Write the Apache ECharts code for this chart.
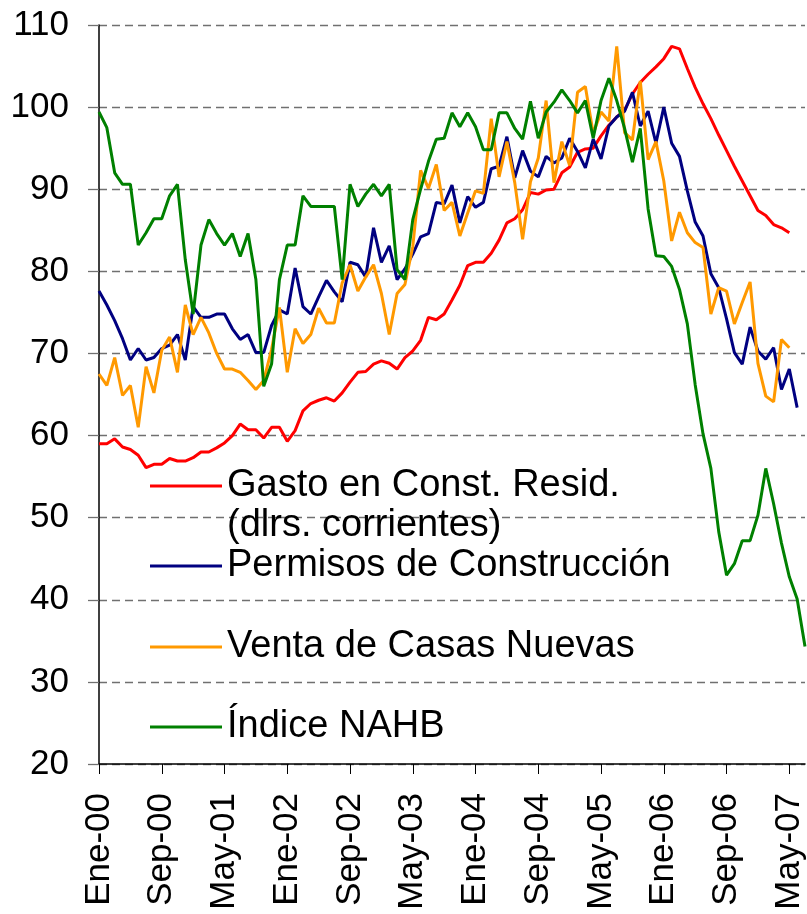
<!DOCTYPE html>
<html>
<head>
<meta charset="utf-8">
<title>Indicadores de vivienda</title>
<script src="https://cdn.jsdelivr.net/npm/echarts@6/dist/echarts.min.js"></script>
<style>
    html, body { margin: 0; padding: 0; background: #fff; }
    #chart { width: 807px; height: 914px; }
</style>
</head>
<body>
<div id="chart"></div>
<script>
    // meses del eje X: Ene-00 .. Jul-07
    var mesNombres = ['Ene', 'Feb', 'Mar', 'Abr', 'May', 'Jun', 'Jul', 'Ago', 'Sep', 'Oct', 'Nov', 'Dic'];
    var anios = ['00', '01', '02', '03', '04', '05', '06', '07'];
    var meses = [];
    for (var a = 0; a < anios.length; a++) {
        for (var m = 0; m < 12; m++) {
            meses.push(mesNombres[m] + '-' + anios[a]);
        }
    }
    meses = meses.slice(0, 91);

    // Gasto en Const. Resid. (dlrs. corrientes)
    var gasto = [
        59.0, 59.0, 59.6, 58.6, 58.3, 57.6, 56.1, 56.5, 56.5, 57.2, 56.9, 56.9,
        57.3, 58.0, 58.0, 58.5, 59.1, 60.0, 61.4, 60.7, 60.7, 59.7, 61.0, 61.0,
        59.3, 60.6, 63.0, 63.9, 64.3, 64.6, 64.2, 65.2, 66.5, 67.7, 67.8, 68.7,
        69.1, 68.8, 68.1, 69.5, 70.3, 71.6, 74.4, 74.1, 74.8, 76.5, 78.3, 80.7,
        81.1, 81.1, 82.2, 83.8, 85.9, 86.4, 87.5, 89.6, 89.4, 89.9, 90.0, 92.0,
        92.7, 94.5, 94.9, 95.0, 96.5, 97.8, 98.8, 99.6, 101.6, 103.0, 104.0, 104.9,
        105.9, 107.4, 107.1, 104.7, 102.4, 100.4, 98.6, 96.6, 94.7, 92.8, 91.0, 89.2,
        87.4, 86.8, 85.7, 85.3, 84.7
    ];
    // Permisos de Construcción
    var permisos = [
        77.6, 75.9, 74.0, 71.8, 69.2, 70.6, 69.2, 69.5, 70.6, 71.0, 72.3, 69.2,
        75.7, 74.4, 74.4, 74.8, 74.8, 73.0, 71.7, 72.3, 70.1, 70.1, 73.4, 75.3,
        74.8, 80.4, 75.7, 74.8, 76.9, 78.9, 77.5, 76.3, 81.1, 80.8, 79.3, 85.3,
        81.1, 83.1, 79.0, 80.3, 82.1, 84.2, 84.6, 88.4, 88.2, 90.5, 85.9, 89.1,
        87.8, 88.4, 92.5, 92.8, 96.4, 91.4, 94.7, 92.2, 91.5, 94.0, 93.2, 93.8,
        96.2, 94.6, 92.6, 96.1, 93.7, 97.7, 98.8, 99.5, 101.8, 97.7, 99.5, 95.6,
        100.0, 95.6, 94.0, 89.8, 86.0, 84.3, 79.7, 78.0, 74.2, 70.1, 68.7, 73.2,
        70.3, 69.3, 70.7, 65.6, 68.1, 63.4
    ];
    // Venta de Casas Nuevas
    var ventas = [
        67.5, 66.1, 69.5, 64.9, 66.1, 61.0, 68.4, 65.2, 70.4, 72.0, 67.7, 75.9,
        72.3, 74.4, 72.5, 70.0, 68.1, 68.1, 67.7, 66.7, 65.6, 66.7, 70.5, 75.6,
        67.7, 73.0, 71.2, 72.3, 75.5, 73.7, 73.7, 78.6, 80.8, 77.6, 79.3, 80.8,
        77.3, 72.3, 77.3, 78.4, 83.0, 92.3, 90.1, 93.0, 87.4, 88.4, 84.3, 87.1,
        89.8, 89.5, 98.6, 91.5, 95.8, 90.8, 83.9, 90.9, 93.8, 100.8, 90.8, 95.8,
        92.9, 101.8, 102.5, 96.8, 99.4, 98.3, 107.4, 96.9, 96.0, 103.2, 93.6, 95.8,
        91.0, 83.7, 87.2, 84.7, 83.5, 82.9, 74.8, 78.0, 77.6, 73.6, 76.2, 78.7,
        68.8, 64.8, 64.1, 71.7, 70.7
    ];
    // Índice NAHB
    var nahb = [
        99.4, 97.5, 92.0, 90.6, 90.6, 83.2, 84.7, 86.4, 86.4, 89.2, 90.6, 81.4,
        74.8, 83.2, 86.3, 84.6, 83.2, 84.6, 81.8, 84.6, 79.0, 66.0, 68.7, 79.0,
        83.2, 83.2, 89.2, 87.9, 87.9, 87.9, 87.9, 79.0, 90.6, 87.9, 89.4, 90.6,
        89.2, 90.6, 80.2, 79.0, 86.3, 90.0, 93.4, 96.1, 96.2, 99.3, 97.6, 99.3,
        97.6, 94.8, 94.8, 99.3, 99.3, 97.4, 96.1, 100.7, 96.2, 99.4, 100.6, 102.1,
        100.8, 99.3, 100.8, 96.2, 100.8, 103.5, 100.8, 97.4, 93.3, 97.4, 87.6, 81.9,
        81.8, 80.6, 77.8, 73.6, 66.2, 60.2, 56.0, 48.3, 43.0, 44.4, 47.2, 47.2,
        50.3, 56.0, 51.7, 46.9, 42.8, 40.1, 34.3
    ];

    var nombreGasto = 'Gasto en Const. Resid.\n(dlrs. corrientes)';
    var nombrePermisos = 'Permisos de Construcción';
    var nombreVentas = 'Venta de Casas Nuevas';
    var nombreNahb = 'Índice NAHB';

    var fuente = '"Liberation Sans", Arial, sans-serif';

    //una leyenda por serie, colocada a mano dentro del área del gráfico
    function leyenda(nombre, top, formato) {
        return {
            data: [nombre],
            left: 150,
            top: top,
            padding: 0,
            icon: 'rect',
            itemWidth: 72,
            itemHeight: 3,
            selectedMode: false,
            formatter: formato || '{name}',
            textStyle: {fontFamily: fuente, fontSize: 38, color: '#000', lineHeight: 40}
        };
    }

    function serie(nombre, datos, color) {
        return {
            name: nombre,
            type: 'line',
            data: datos,
            color: color,
            showSymbol: false,
            symbol: 'none',
            lineStyle: {width: 3, color: color},
            itemStyle: {color: color}
        };
    }

    var myChart = echarts.init(document.getElementById('chart'));
    myChart.setOption({
        animation: false,
        backgroundColor: '#fff',
        grid: {left: 99, right: 2, top: 25, bottom: 150},
        legend: [
            //línea en blanco delante para que la primera línea quede a la altura del trazo
            leyenda(nombreGasto, 426, function (name) { return ' \n' + name; }),
            leyenda(nombrePermisos, 546),
            leyenda(nombreVentas, 627),
            leyenda(nombreNahb, 707)
        ],
        xAxis: {
            type: 'category',
            data: meses,
            boundaryGap: false,
            axisLine: {lineStyle: {color: '#000', width: 1.5}},
            axisTick: {show: true, interval: 7, length: 10, lineStyle: {color: '#000', width: 1}},
            axisLabel: {
                interval: 7,
                rotate: 90,
                margin: 29,
                fontFamily: fuente,
                fontSize: 35,
                color: '#000'
            },
            splitLine: {show: false}
        },
        yAxis: {
            type: 'value',
            min: 20,
            max: 110,
            interval: 10,
            axisLine: {show: true, lineStyle: {color: '#000', width: 1.5}},
            axisTick: {show: true, length: 11, lineStyle: {color: '#707070', width: 1.3}},
            axisLabel: {margin: 30, fontFamily: fuente, fontSize: 35, color: '#000'},
            splitLine: {show: true, lineStyle: {color: '#707070', width: 1.3, type: [8, 5]}}
        },
        series: [
            serie(nombreGasto, gasto, '#ff0000'),
            serie(nombrePermisos, permisos, '#000080'),
            serie(nombreVentas, ventas, '#ff9900'),
            serie(nombreNahb, nahb, '#008000')
        ]
    });
</script>
</body>
</html>
